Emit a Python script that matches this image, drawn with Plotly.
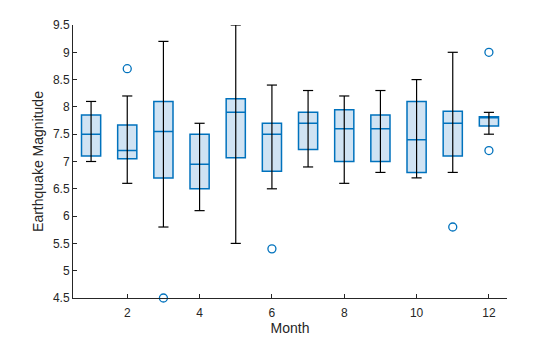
import plotly.graph_objects as go

months = [1, 2, 3, 4, 5, 6, 7, 8, 9, 10, 11, 12]
q1 = [7.10, 7.05, 6.70, 6.50, 7.07, 6.82, 7.22, 7.00, 7.00, 6.80, 7.10, 7.65]
median = [7.50, 7.20, 7.55, 6.95, 7.90, 7.50, 7.70, 7.60, 7.60, 7.40, 7.70, 7.80]
q3 = [7.85, 7.67, 8.10, 7.50, 8.15, 7.70, 7.90, 7.95, 7.85, 8.10, 7.92, 7.82]
lower_whisker = [7.00, 6.60, 5.80, 6.10, 5.50, 6.50, 6.90, 6.60, 6.80, 6.70, 6.80, 7.50]
upper_whisker = [8.10, 8.20, 9.20, 7.70, 9.50, 8.40, 8.30, 8.20, 8.30, 8.50, 9.00, 7.90]
outlier_month = [2, 3, 6, 11, 12, 12]
outlier_value = [8.70, 4.50, 5.40, 5.80, 9.00, 7.20]

y_ticks = [4.5, 5, 5.5, 6, 6.5, 7, 7.5, 8, 8.5, 9, 9.5]
y_labels = ["4.5", "5", "5.5", "6", "6.5", "7", "7.5", "8", "8.5", "9", "9.5"]
x_ticks = [2, 4, 6, 8, 10, 12]

BLUE = "#0072BD"
FILL = "#d0e3f3"
BOX_W = 0.53
CAP = 0.14

# whisker lines (black) drawn under the boxes
wx, wy = [], []
for m, lo, hi in zip(months, lower_whisker, upper_whisker):
    wx += [m, m, None]
    wy += [lo, hi, None]
    wx += [m - CAP, m + CAP, None, m - CAP, m + CAP, None]
    wy += [lo, lo, None, hi, hi, None]

fig = go.Figure()
fig.add_trace(go.Scatter(x=wx, y=wy, mode="lines",
                         line=dict(color="black", width=1.2),
                         hoverinfo="skip", showlegend=False, cliponaxis=False))
fig.add_trace(go.Box(x=months, q1=q1, median=median, q3=q3,
                     lowerfence=q1, upperfence=q3,
                     width=BOX_W, whiskerwidth=0,
                     fillcolor=FILL, line=dict(color=BLUE, width=1.5),
                     boxpoints=False, showlegend=False))
fig.add_trace(go.Scatter(x=outlier_month, y=outlier_value, mode="markers",
                         marker=dict(symbol="circle-open", size=8,
                                     color=BLUE, line=dict(width=1.3, color=BLUE)),
                         showlegend=False, cliponaxis=False))

font_family = "Liberation Sans, Arial, Helvetica, sans-serif"
fig.update_layout(
    width=560, height=337,
    margin=dict(l=73, r=53, t=25, b=39),
    paper_bgcolor="white", plot_bgcolor="white",
    font=dict(family=font_family, size=12, color="#262626"),
    xaxis=dict(range=[0.5, 12.5], tickvals=x_ticks, ticks="inside",
               ticklen=4, tickcolor="#262626", showgrid=False, zeroline=False,
               showline=True, linecolor="#262626", linewidth=1,
               ticklabelstandoff=4, automargin=False,
               title=dict(text="Month", font=dict(size=14), standoff=2)),
    yaxis=dict(range=[4.5, 9.5], tickvals=y_ticks, ticktext=y_labels,
               ticks="inside", ticklen=4, tickcolor="#262626",
               showgrid=False, zeroline=False, automargin=False,
               showline=True, linecolor="#262626", linewidth=1,
               title=dict(text="Earthquake Magnitude", font=dict(size=14), standoff=6)),
)

fig.write_html("out.html")
